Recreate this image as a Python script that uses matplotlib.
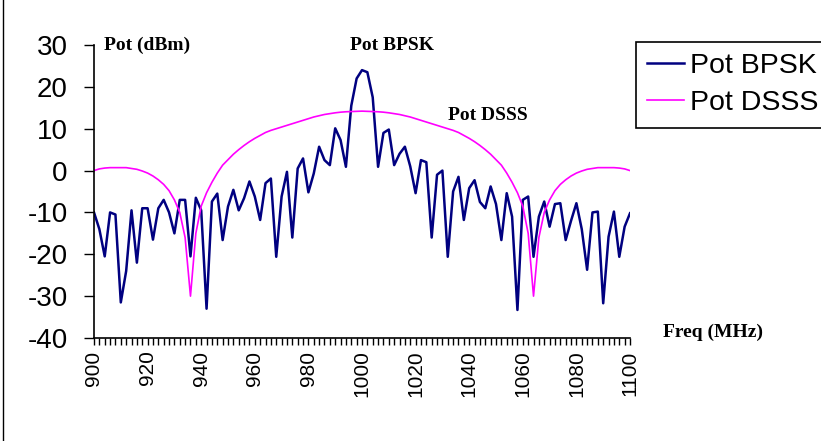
import numpy as np
import matplotlib
matplotlib.use('Agg')
import matplotlib.pyplot as plt

plt.rcParams['axes.unicode_minus'] = False

# frequency axis (MHz), one point every 2 MHz
freq = np.arange(900, 1101, 2)

# Pot BPSK (dBm), 900 -> 1100 MHz
pot_bpsk = [-10, -14, -20.5, -10, -10.5, -31.5, -24, -9.5, -22, -9,
            -9, -16.5, -9, -7, -10, -15, -7, -7, -20.5, -6.5,
            -9.5, -33, -7.4, -5.5, -16.6, -8.6, -4.6, -9.5, -6.6, -2.6,
            -6.2, -11.8, -3.0, -1.9, -20.6, -6.2, -0.3, -16, 0.5, 2.9,
            -5.2, -0.7, 5.7, 2.5, 1.3, 10.1, 7.3, 0.9, 15.5, 22,
            24, 23.5, 17.5, 0.9, 9, 9.8, 1.3, 4, 5.7, 1,
            -5.4, 2.5, 2, -16, -1, 0, -20.6, -5, -1.5, -11.8,
            -4.2, -2.3, -7.5, -9, -3.8, -8, -16.6, -5.4, -11, -33.3,
            -7, -6.2, -20.6, -11, -7.4, -13.4, -8, -7.8, -16.6, -12,
            -7.8, -14, -23.7, -10, -9.8, -31.7, -15.8, -9.8, -20.6, -13.4,
            -10.2]

# Pot DSSS (dBm), 900 -> 1000 MHz (right half is the mirror)
dsss_left = [0.0, 0.4, 0.6, 0.7, 0.7, 0.7, 0.7, 0.5, 0.3, -0.1,
             -0.6, -1.3, -2.2, -3.3, -4.8, -7.0, -10.0, -16.0, -30.0, -15.0,
             -8.5, -5.3, -2.8, -0.6, 1.3, 2.6, 3.9, 5.0, 6.0, 6.9,
             7.7, 8.4, 9.1, 9.6, 10.0, 10.4, 10.8, 11.2, 11.6, 12.0,
             12.4, 12.8, 13.1, 13.4, 13.6, 13.8, 13.95, 14.05, 14.1, 14.15,
             14.2]
pot_dsss = dsss_left + dsss_left[-2::-1]

W, H = 821, 441
fig = plt.figure(figsize=(W / 100, H / 100), dpi=100)
ax = fig.add_axes([94 / W, 1 - 338 / H, (630 - 94) / W, (338 - 45) / H])

ax.plot(freq, pot_bpsk, color='#000080', lw=1.8, label='Pot BPSK')
ax.plot(freq, pot_dsss, color='#FF00FF', lw=1.2, label='Pot DSSS')

ax.set_xlim(900, 1100)
ax.set_ylim(-40, 30)
ax.set_yticks(range(-40, 31, 10))
ax.set_xticks(range(900, 1101, 20))
ax.set_xticks(freq, minor=True)
ax.tick_params(axis='y', direction='out', length=7, width=1, pad=12, labelsize=20)
ax.tick_params(axis='x', which='major', direction='out', length=5, width=1, pad=4,
               labelsize=15, labelrotation=90)
ax.tick_params(axis='x', which='minor', direction='out', length=5, width=1)
for lab in ax.get_xticklabels() + ax.get_yticklabels():
    lab.set_family('Liberation Sans')
ax.spines['top'].set_visible(False)
ax.spines['right'].set_visible(False)
ax.spines['left'].set_linewidth(1.2)
ax.spines['bottom'].set_linewidth(1.2)

# text boxes placed on the chart
note = dict(family='Liberation Serif', fontweight='bold', fontsize=14,
            ha='center', va='center')
fig.text(147 / W, 1 - 45 / H, 'Pot (dBm)', **note)
fig.text(392 / W, 1 - 45 / H, 'Pot BPSK', **note)
fig.text(488 / W, 1 - 116 / H, 'Pot DSSS', **note)
fig.text(713 / W, 1 - 332 / H, 'Freq (MHz)', **note)

leg = fig.legend(loc='upper left', bbox_to_anchor=(636 / W, 1 - 42 / H),
                 prop={'family': 'Liberation Sans', 'size': 20.5},
                 fancybox=False, framealpha=1, edgecolor='black',
                 handlelength=1.3, handletextpad=0.2, borderpad=0.4,
                 labelspacing=0.38, borderaxespad=0)
leg.get_frame().set_linewidth(1.2)

# chart area border
fig.patches.append(plt.Rectangle((3 / W, -0.1), 1.2, 1.2, transform=fig.transFigure,
                                 fill=False, edgecolor='black', lw=1))

fig.savefig('out.png', dpi=100)
